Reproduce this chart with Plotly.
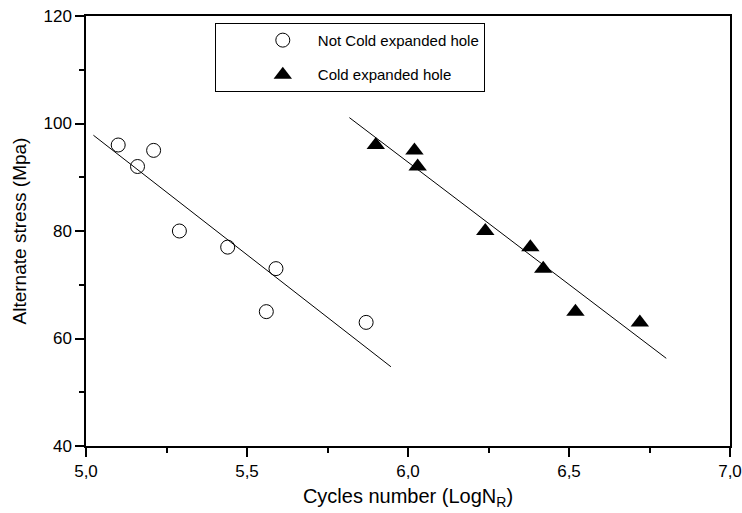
import numpy as np
import plotly.graph_objects as go

# Data
not_cold_x = [5.10, 5.16, 5.21, 5.29, 5.44, 5.56, 5.59, 5.87]
not_cold_y = [96, 92, 95, 80, 77, 65, 73, 63]
cold_x = [5.90, 6.02, 6.03, 6.24, 6.38, 6.42, 6.52, 6.72]
cold_y = [96, 95, 92, 80, 77, 73, 65, 63]

series_names = ["Not Cold expanded hole", "Cold expanded hole"]
x_title = "Cycles number (LogN<sub>R</sub>)"
y_title = "Alternate stress (Mpa)"

FONT = "Liberation Sans, Arial, sans-serif"


def fit_line(x, y):
    x = np.asarray(x, float)
    y = np.asarray(y, float)
    b, a = np.polyfit(x, y, 1)
    span = x.max() - x.min()
    xs = np.array([x.min() - 0.1 * span, x.max() + 0.1 * span])
    return xs, a + b * xs


fig = go.Figure()

fx1, fy1 = fit_line(not_cold_x, not_cold_y)
fx2, fy2 = fit_line(cold_x, cold_y)
for fx, fy in [(fx1, fy1), (fx2, fy2)]:
    fig.add_trace(go.Scatter(x=fx, y=fy, mode="lines",
                             line=dict(color="black", width=1),
                             showlegend=False, hoverinfo="skip"))

fig.add_trace(go.Scatter(x=not_cold_x, y=not_cold_y, mode="markers",
                         name=series_names[0], legendgroup="a",
                         marker=dict(symbol="circle-open", size=14,
                                     color="black", line=dict(width=1, color="black"))))
fig.add_trace(go.Scatter(x=cold_x, y=cold_y, mode="markers",
                         name=series_names[1], legendgroup="b",
                         marker=dict(symbol="triangle-up", size=16, color="black")))

axis_common = dict(showgrid=False, zeroline=False, showline=True, automargin=False,
                   linecolor="black", linewidth=1.5, mirror=True,
                   ticks="outside", ticklen=9, tickwidth=1.5, tickcolor="black",
                   tickfont=dict(family=FONT, size=17, color="black"))

fig.update_xaxes(range=[5, 7], dtick=0.5, tick0=5, tickformat=".1f",
                 minor=dict(dtick=0.25, ticks="outside", ticklen=5, tickwidth=1.5, tickcolor="black"),
                 title=dict(text=x_title, standoff=9,
                            font=dict(family=FONT, size=20, color="black")),
                 **axis_common)
fig.update_yaxes(range=[40, 120], dtick=20, tick0=40,
                 minor=dict(dtick=10, ticks="outside", ticklen=5, tickwidth=1.5, tickcolor="black"),
                 title=dict(text=y_title, standoff=12,
                            font=dict(family=FONT, size=19, color="black")),
                 **axis_common)

fig.update_layout(
    width=742, height=513,
    margin=dict(l=86, r=12, t=16, b=67),
    plot_bgcolor="white", paper_bgcolor="white",
    separators=",.",
    font=dict(family=FONT, color="black"),
    legend=dict(x=0.2, y=0.984, xanchor="left", yanchor="top",
                bordercolor="black", borderwidth=1, bgcolor="white",
                font=dict(family=FONT, size=15, color="black"),
                indentation=32, itemwidth=60, tracegroupgap=12),
)

fig.write_html("out.html")
